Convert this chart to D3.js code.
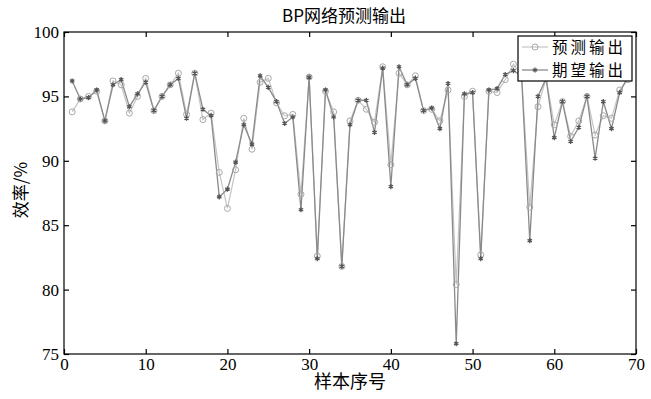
<!DOCTYPE html>
<html><head><meta charset="utf-8">
<script src="https://cdn.jsdelivr.net/npm/d3@7"></script>
<style>
html,body{margin:0;padding:0;background:#fff;}
svg{display:block;}
</style></head>
<body><svg id="chart" width="651" height="399"></svg>
<script>
const titleText = "BP网络预测输出";
const xLabel = "样本序号";
const yLabel = "效率/%";
const seriesNames = ["预测输出", "期望输出"];
const xTicks = [0,10,20,30,40,50,60,70];
const yTicks = [75,80,85,90,95,100];
const sampleIdx = d3.range(1, 70);
const expected = [96.2,94.8,94.9,95.5,93.1,95.9,96.3,94.2,95.2,96.1,93.9,95.0,95.9,96.4,93.3,96.8,94.0,93.5,87.2,87.8,
  89.9,92.8,91.3,96.6,95.7,94.6,92.9,93.4,86.2,96.5,82.4,95.5,93.4,81.8,92.8,94.7,94.7,92.2,97.2,88.0,
  97.3,95.9,96.4,93.9,94.1,92.5,96.0,75.8,95.2,95.3,82.4,95.5,95.6,96.7,97.0,96.6,83.8,95.0,96.4,91.8,
  94.6,91.5,92.6,95.0,90.2,94.6,92.5,95.3,96.5];
const predicted = [93.8,94.8,95.0,95.4,93.1,96.2,95.9,93.7,95.0,96.4,93.9,95.0,95.9,96.8,93.6,96.8,93.2,93.7,89.1,86.3,
  89.3,93.3,90.9,96.1,96.4,94.5,93.5,93.6,87.4,96.5,82.6,95.4,93.8,81.8,93.1,94.7,94.0,93.0,97.3,89.7,
  96.8,95.9,96.6,93.9,94.0,93.1,95.5,80.4,95.0,95.4,82.7,95.4,95.3,96.3,97.5,96.6,86.4,94.2,96.4,92.8,
  94.6,91.9,93.1,95.0,92.0,93.5,93.3,95.5,96.3];

const svg = d3.select("#chart");
const L = 64, R = 636, T = 32, B = 354;
const x = d3.scaleLinear().domain([0,70]).range([L,R]);
const y = d3.scaleLinear().domain([75,100]).range([B,T]);
const numFont = "'Liberation Serif','DejaVu Serif',serif";
const cjkFont = "'Noto Sans CJK SC','Noto Sans',sans-serif";

// frame
svg.append("rect").attr("x",L).attr("y",T).attr("width",R-L).attr("height",B-T)
  .attr("fill","none").attr("stroke","#000").attr("stroke-width",1.2);

function styleAxis(g){
  g.select(".domain").remove();
  g.selectAll(".tick line").attr("stroke","#000").attr("stroke-width",1.2);
  g.selectAll(".tick text").attr("font-family",numFont).attr("font-size",17).attr("fill","#000");
}
svg.append("g").attr("transform",`translate(0,${B})`)
  .call(d3.axisBottom(x).tickValues(xTicks).tickSize(-5).tickPadding(4).tickFormat(d3.format("d")))
  .call(styleAxis);
svg.append("g").attr("transform",`translate(0,${T})`)
  .call(d3.axisTop(x).tickValues(xTicks).tickSize(-5).tickFormat(""))
  .call(styleAxis);
svg.append("g").attr("transform",`translate(${L},0)`)
  .call(d3.axisLeft(y).tickValues(yTicks).tickSize(-5).tickPadding(5).tickFormat(d3.format("d")))
  .call(styleAxis);
svg.append("g").attr("transform",`translate(${R},0)`)
  .call(d3.axisRight(y).tickValues(yTicks).tickSize(-5).tickFormat(""))
  .call(styleAxis);

const line = d3.line().x((d,i)=>x(sampleIdx[i])).y(d=>y(d));
const plot = svg.append("g");
plot.append("path").datum(predicted).attr("d",line).attr("fill","none")
  .attr("stroke","#c4c4c4").attr("stroke-width",1.2);
plot.append("path").datum(expected).attr("d",line).attr("fill","none")
  .attr("stroke","#8a8a8a").attr("stroke-width",1.3);
plot.selectAll("circle.p").data(predicted).join("circle").attr("class","p")
  .attr("cx",(d,i)=>x(sampleIdx[i])).attr("cy",d=>y(d)).attr("r",3)
  .attr("fill","none").attr("stroke","#a8a8a8").attr("stroke-width",1);
const star = d3.symbol(d3.symbolAsterisk, 18);
plot.selectAll("path.e").data(expected).join("path").attr("class","e")
  .attr("transform",(d,i)=>`translate(${x(sampleIdx[i])},${y(d)})`)
  .attr("d",star).attr("fill","none").attr("stroke","#555").attr("stroke-width",1.3);

// legend
const lg = svg.append("g");
lg.append("rect").attr("x",518).attr("y",36).attr("width",114).attr("height",45)
  .attr("fill","#fff").attr("stroke","#000").attr("stroke-width",1.2);
const rows = [47, 70];
lg.append("line").attr("x1",522).attr("x2",548).attr("y1",rows[0]).attr("y2",rows[0]).attr("stroke","#c4c4c4").attr("stroke-width",1.2);
lg.append("circle").attr("cx",535).attr("cy",rows[0]).attr("r",3).attr("fill","none").attr("stroke","#a8a8a8");
lg.append("line").attr("x1",522).attr("x2",548).attr("y1",rows[1]).attr("y2",rows[1]).attr("stroke","#8a8a8a").attr("stroke-width",1.3);
lg.append("path").attr("transform",`translate(535,${rows[1]})`).attr("d",star).attr("fill","none").attr("stroke","#555").attr("stroke-width",1.3);
seriesNames.forEach((n,i)=>{
  lg.append("text").attr("x",552).attr("y",rows[i]).attr("dy","0.36em")
    .attr("font-family",cjkFont).attr("font-size",15.5).attr("letter-spacing",3)
    .attr("fill","#000").text(n);
});

// titles
svg.append("text").attr("x",344).attr("y",16).attr("dy","0.36em").attr("text-anchor","middle")
  .attr("font-family",cjkFont).attr("font-size",17).attr("fill","#000").text(titleText);
svg.append("text").attr("x",350).attr("y",382).attr("dy","0.36em").attr("text-anchor","middle")
  .attr("font-family",cjkFont).attr("font-size",18).attr("fill","#000").text(xLabel);
svg.append("text").attr("transform","translate(21,190) rotate(-90)").attr("dy","0.36em").attr("text-anchor","middle")
  .attr("font-family",cjkFont).attr("font-size",17).attr("fill","#000").text(yLabel);
</script>
</body></html>
